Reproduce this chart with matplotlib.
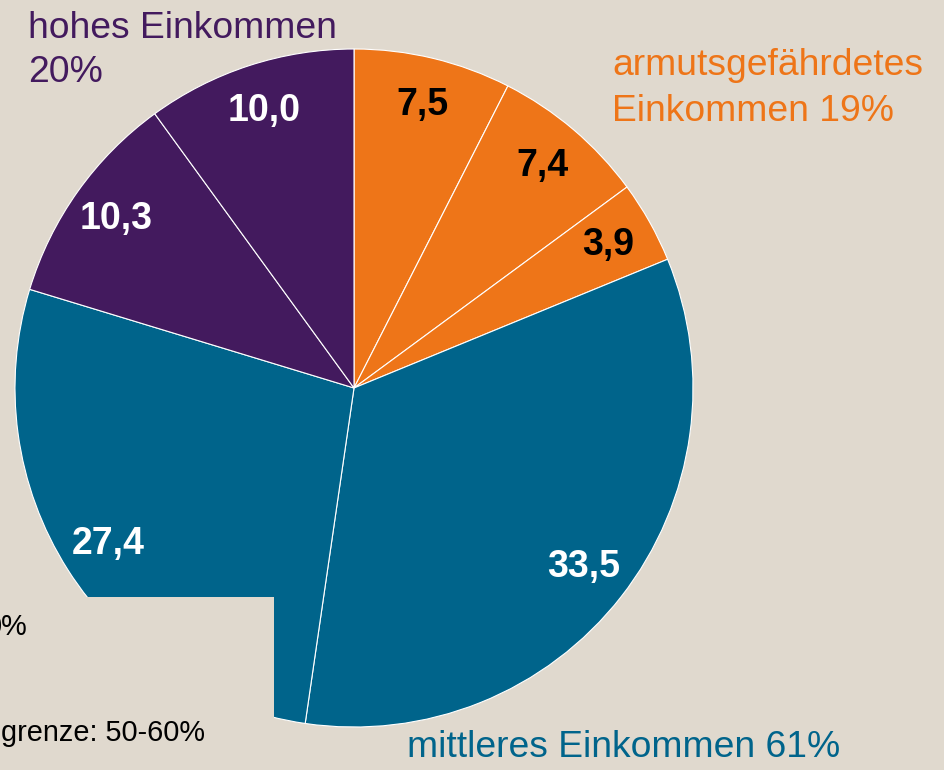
import matplotlib
matplotlib.use("Agg")
import matplotlib.pyplot as plt
from matplotlib.patches import Rectangle

plt.rcParams['font.family'] = ['Liberation Sans', 'DejaVu Sans']

# Data
segments = ["arm_1", "arm_2", "arm_3", "mittel_1", "mittel_2", "hoch_1", "hoch_2"]
values = [7.5, 7.4, 3.9, 33.5, 27.4, 10.3, 10.0]
value_labels = ["7,5", "7,4", "3,9", "33,5", "27,4", "10,3", "10,0"]
label_high = ["hohes Einkommen", "20%"]
label_poor = ["armutsgefährdetes", "Einkommen 19%"]
label_mid = ["mittleres Einkommen 61%"]
legend_fragments = ["0%", "grenze: 50-60%"]

BG = "#E0D9CE"
PURPLE = "#431A5E"
ORANGE = "#EE7518"
TEAL = "#00648B"
colors = [ORANGE, ORANGE, ORANGE, TEAL, TEAL, PURPLE, PURPLE]
text_colors = ["black", "black", "black", "white", "white", "white", "white"]

W, H = 944, 770
fig = plt.figure(figsize=(W / 100, H / 100), dpi=100, facecolor=BG)
ax = fig.add_axes([0, 0, 1, 1])
ax.set_facecolor(BG)

cx, cy, R = 354, H - 388, 339
wedges, texts = ax.pie(values, colors=colors, startangle=90, counterclock=False,
                       center=(cx, cy), radius=R, labels=value_labels,
                       labeldistance=0.86, frame=True,
                       wedgeprops=dict(edgecolor="white", linewidth=0.8),
                       textprops=dict(fontsize=27, fontweight='bold'))
for t, c in zip(texts, text_colors):
    t.set_color(c)
    t.set_ha('center')
    t.set_va('center')
ax.set_xlim(0, W)
ax.set_ylim(0, H)
ax.set_aspect('equal')
ax.axis('off')

# Background-colored box covering lower-left part of the pie
ax.add_patch(Rectangle((0, 0), 274, H - 597, facecolor=BG, edgecolor='none', zorder=5))

FS = 26.8
# Group labels (baselines in pixel rows from top)
for line, yb in zip(label_high, [38, 82]):
    ax.text(28, H - yb, line, color=PURPLE, fontsize=FS, ha='left', va='baseline', zorder=6)
for line, yb in zip(label_poor, [75, 121]):
    ax.text(612, H - yb, line, color=ORANGE, fontsize=FS, ha='left', va='baseline', zorder=6)
ax.text(407, H - 757, label_mid[0], color=TEAL, fontsize=FS, ha='left', va='baseline', zorder=6)

# Partially visible legend fragments at left edge
ax.text(28, H - 635, legend_fragments[0], color='black', fontsize=20.8, ha='right',
        va='baseline', zorder=6)
ax.text(1, H - 741, legend_fragments[1], color='black', fontsize=20.8, ha='left',
        va='baseline', zorder=6)

fig.savefig("out.png", dpi=100, facecolor=BG)
